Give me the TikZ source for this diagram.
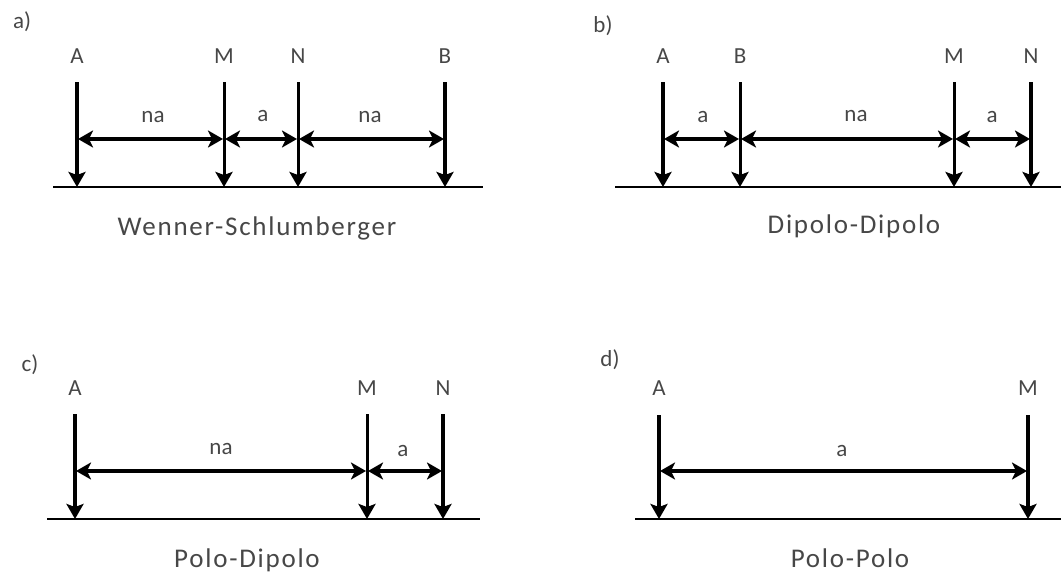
\documentclass[tikz,border=0pt]{standalone}
\usepackage{fontspec}
\setmainfont{Carlito}
\newfontfamily\ttlfont[LetterSpace=6.5]{Carlito}
\usetikzlibrary{arrows.meta}
\tikzset{
  x=1pt,y=-1pt,
  lab/.style={font=\fontsize{23}{25}\selectfont,text=black!72,inner sep=0pt,anchor=center},
  ttl/.style={lab,font=\ttlfont\fontsize{27}{29}\selectfont},
  ground/.style={draw=black,line width=1.6pt},
  thick electrode/.style={draw=black,line width=4.4pt,-{Stealth[length=15pt,width=17pt,inset=3pt]}},
  thin electrode/.style={draw=black,line width=3pt,-{Stealth[length=15pt,width=17pt,inset=3pt]}},
  span/.style={draw=black,line width=4.8pt,{Stealth[length=15pt,width=17pt,inset=4pt]}-{Stealth[length=15pt,width=17pt,inset=4pt]},shorten <=1pt,shorten >=1pt},
}
\begin{document}
\begin{tikzpicture}
\useasboundingbox (0,0) rectangle (1061,573);
% panel a
\node[lab] (lblA) at (22,22) {a)};
\node[lab] (aA) at (77,56) {A};
\node[lab] (aM) at (224,56) {M};
\node[lab] (aN) at (298,56) {N};
\node[lab] (aB) at (445,56) {B};
\coordinate (aAt) at (77,82);  \coordinate (aAb) at (77,187);  \coordinate (aAd) at (77,139);
\coordinate (aMt) at (224,82); \coordinate (aMb) at (224,187); \coordinate (aMd) at (224,139);
\coordinate (aNt) at (298,82); \coordinate (aNb) at (298,187); \coordinate (aNd) at (298,139);
\coordinate (aBt) at (445,82); \coordinate (aBb) at (445,187); \coordinate (aBd) at (445,139);
\coordinate (ag1) at (53,187); \coordinate (ag2) at (483,187);
\draw[ground] (ag1) -- (ag2);
\draw[thick electrode] (aAt) -- (aAb);
\draw[thin electrode] (aMt) -- (aMb);
\draw[thin electrode] (aNt) -- (aNb);
\draw[thick electrode] (aBt) -- (aBb);
\draw[span] (aAd) -- (aMd);
\draw[span] (aMd) -- (aNd);
\draw[span] (aNd) -- (aBd);
\node[lab] (ana1) at (153,117) {na};
\node[lab] (aa) at (263,116) {a};
\node[lab] (ana2) at (370,117) {na};
\node[ttl] (at) at (257,228) {Wenner-Schlumberger};
% panel b
\node[lab] (lblB) at (603,26) {b)};
\node[lab] (bA) at (663,56) {A};
\node[lab] (bB) at (740,56) {B};
\node[lab] (bM) at (954,56) {M};
\node[lab] (bN) at (1031,56) {N};
\coordinate (bAt) at (663,82);  \coordinate (bAb) at (663,187);  \coordinate (bAd) at (663,139);
\coordinate (bBt) at (740,82);  \coordinate (bBb) at (740,187);  \coordinate (bBd) at (740,139);
\coordinate (bMt) at (954,82);  \coordinate (bMb) at (954,187);  \coordinate (bMd) at (954,139);
\coordinate (bNt) at (1031,82); \coordinate (bNb) at (1031,187); \coordinate (bNd) at (1031,139);
\coordinate (bg1) at (615,187); \coordinate (bg2) at (1061,187);
\draw[ground] (bg1) -- (bg2);
\draw[thick electrode] (bAt) -- (bAb);
\draw[thin electrode] (bBt) -- (bBb);
\draw[thin electrode] (bMt) -- (bMb);
\draw[thick electrode] (bNt) -- (bNb);
\draw[span] (bAd) -- (bBd);
\draw[span] (bBd) -- (bMd);
\draw[span] (bMd) -- (bNd);
\node[lab] (ba1) at (703,117) {a};
\node[lab] (bna) at (856,116) {na};
\node[lab] (ba2) at (992,117) {a};
\node[ttl] (bt) at (854,226) {Dipolo-Dipolo};
% panel c
\node[lab] (lblC) at (30,365) {c)};
\node[lab] (cA) at (75,388) {A};
\node[lab] (cM) at (367,388) {M};
\node[lab] (cN) at (443,388) {N};
\coordinate (cAt) at (75,414);  \coordinate (cAb) at (75,519);  \coordinate (cAd) at (75,471);
\coordinate (cMt) at (367,414); \coordinate (cMb) at (367,519); \coordinate (cMd) at (367,471);
\coordinate (cNt) at (443,414); \coordinate (cNb) at (443,519); \coordinate (cNd) at (443,471);
\coordinate (cg1) at (47,519); \coordinate (cg2) at (480,519);
\draw[ground] (cg1) -- (cg2);
\draw[thick electrode] (cAt) -- (cAb);
\draw[thin electrode] (cMt) -- (cMb);
\draw[thick electrode] (cNt) -- (cNb);
\draw[span] (cAd) -- (cMd);
\draw[span] (cMd) -- (cNd);
\node[lab] (cna) at (221,449) {na};
\node[lab] (ca) at (403,451) {a};
\node[ttl] (ct) at (247,560) {Polo-Dipolo};
% panel d
\node[lab] (lblD) at (610,360) {d)};
\node[lab] (dA) at (659,388) {A};
\node[lab] (dM) at (1028,388) {M};
\coordinate (dAt) at (659,415);  \coordinate (dAb) at (659,519);  \coordinate (dAd) at (659,471);
\coordinate (dMt) at (1028,415); \coordinate (dMb) at (1028,519); \coordinate (dMd) at (1028,471);
\coordinate (dg1) at (635,519); \coordinate (dg2) at (1061,519);
\draw[ground] (dg1) -- (dg2);
\draw[thick electrode] (dAt) -- (dAb);
\draw[thick electrode] (dMt) -- (dMb);
\draw[span] (dAd) -- (dMd);
\node[lab] (da) at (842,451) {a};
\node[ttl] (dt) at (850,558) {Polo-Polo};
\end{tikzpicture}
\end{document}
